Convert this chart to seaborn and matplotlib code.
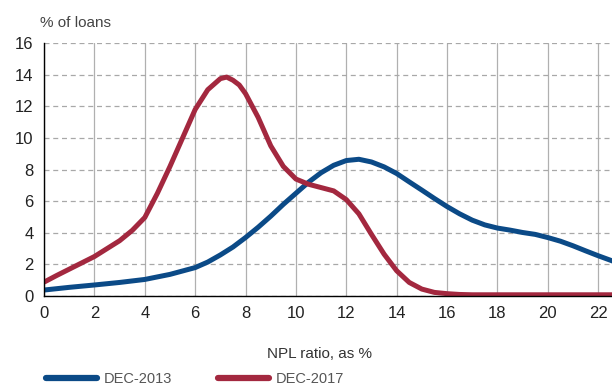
import matplotlib
matplotlib.use("Agg")
import matplotlib.pyplot as plt
import seaborn as sns
import pandas as pd

# NPL ratio (x) and share of loans (y)
npl_2013 = [0, 1, 2, 3, 4, 5, 6, 6.5, 7, 7.5, 8, 8.5, 9, 9.5, 10, 10.5, 11, 11.5,
            12, 12.5, 13, 13.5, 14, 14.5, 15, 15.5, 16, 16.5, 17, 17.5, 18, 18.5,
            19, 19.5, 20, 20.5, 21, 21.5, 22, 22.6]
share_2013 = [0.38, 0.55, 0.7, 0.86, 1.05, 1.37, 1.8, 2.15, 2.6, 3.1, 3.7, 4.35,
              5.05, 5.8, 6.5, 7.2, 7.8, 8.27, 8.57, 8.65, 8.48, 8.17, 7.75, 7.22,
              6.7, 6.17, 5.66, 5.2, 4.8, 4.5, 4.3, 4.17, 4.02, 3.9, 3.7, 3.47, 3.18,
              2.86, 2.55, 2.2]

npl_2017 = [0, 0.5, 1, 1.5, 2, 2.5, 3, 3.5, 4, 4.5, 5, 5.5, 6, 6.5, 7, 7.25, 7.5,
            7.75, 8, 8.5, 9, 9.5, 10, 10.5, 11, 11.5, 12, 12.5, 13, 13.5, 14, 14.5,
            15, 15.5, 16, 16.5, 17, 18, 20, 22.6]
share_2017 = [0.88, 1.3, 1.7, 2.1, 2.5, 3.0, 3.5, 4.15, 4.97, 6.5, 8.2, 10.0, 11.8,
              13.05, 13.75, 13.85, 13.65, 13.35, 12.8, 11.3, 9.5, 8.2, 7.4, 7.07,
              6.86, 6.65, 6.1, 5.2, 3.9, 2.65, 1.6, 0.86, 0.44, 0.23, 0.15, 0.1,
              0.08, 0.08, 0.08, 0.08]

labels = ["DEC-2013", "DEC-2017"]
colors = ["#0b4a87", "#a3283f"]
x_ticks = list(range(0, 23, 2))
y_ticks = list(range(0, 17, 2))

df = pd.concat([
    pd.DataFrame({"npl": npl_2013, "share": share_2013, "period": labels[0]}),
    pd.DataFrame({"npl": npl_2017, "share": share_2017, "period": labels[1]}),
])

sns.set_style("white")
plt.rcParams["font.family"] = ["Liberation Sans", "DejaVu Sans"]

fig = plt.figure(figsize=(6.12, 3.88), dpi=100)
ax = fig.add_axes([0.072, 0.237, 0.928, 0.652])

sns.lineplot(data=df, x="npl", y="share", hue="period", palette=colors,
             linewidth=3.6, ax=ax, legend=False, sort=True,
             solid_joinstyle="round", solid_capstyle="butt")

ax.set_xlim(0, 22.55)
ax.set_ylim(0, 16)
ax.set_xticks(x_ticks)
ax.set_yticks(y_ticks)
ax.tick_params(axis="both", labelsize=12, colors="#222222", width=0.8)
ax.tick_params(axis="y", direction="out", length=4)
ax.tick_params(axis="x", direction="in", length=3, pad=7)
ax.grid(axis="x", color="#b0b0b0", linewidth=0.9, linestyle="-")
ax.grid(axis="y", color="#a8a8a8", linewidth=0.9, linestyle=(0, (4, 3)))
ax.set_axisbelow(True)
for side in ["top", "right"]:
    ax.spines[side].set_visible(False)
for side in ["left", "bottom"]:
    ax.spines[side].set_color("black")
    ax.spines[side].set_linewidth(1.0)

ax.set_xlabel("NPL ratio, as %", fontsize=11, color="#333333")
ax.xaxis.set_label_coords(0.485, -0.2)
ax.set_ylabel("")
fig.text(0.065, 0.93, "% of loans", fontsize=11, color="#444444")

handles = [plt.Line2D([], [], color=c, linewidth=4.5) for c in colors]
fig.legend(handles, labels, loc="lower left", bbox_to_anchor=(0.058, -0.022),
           ncol=2, frameon=False, fontsize=10.5, handlelength=3.5,
           columnspacing=3.2, handletextpad=0.45, labelcolor="#555555",
           borderpad=0.2)

fig.savefig("out.png", dpi=100)
